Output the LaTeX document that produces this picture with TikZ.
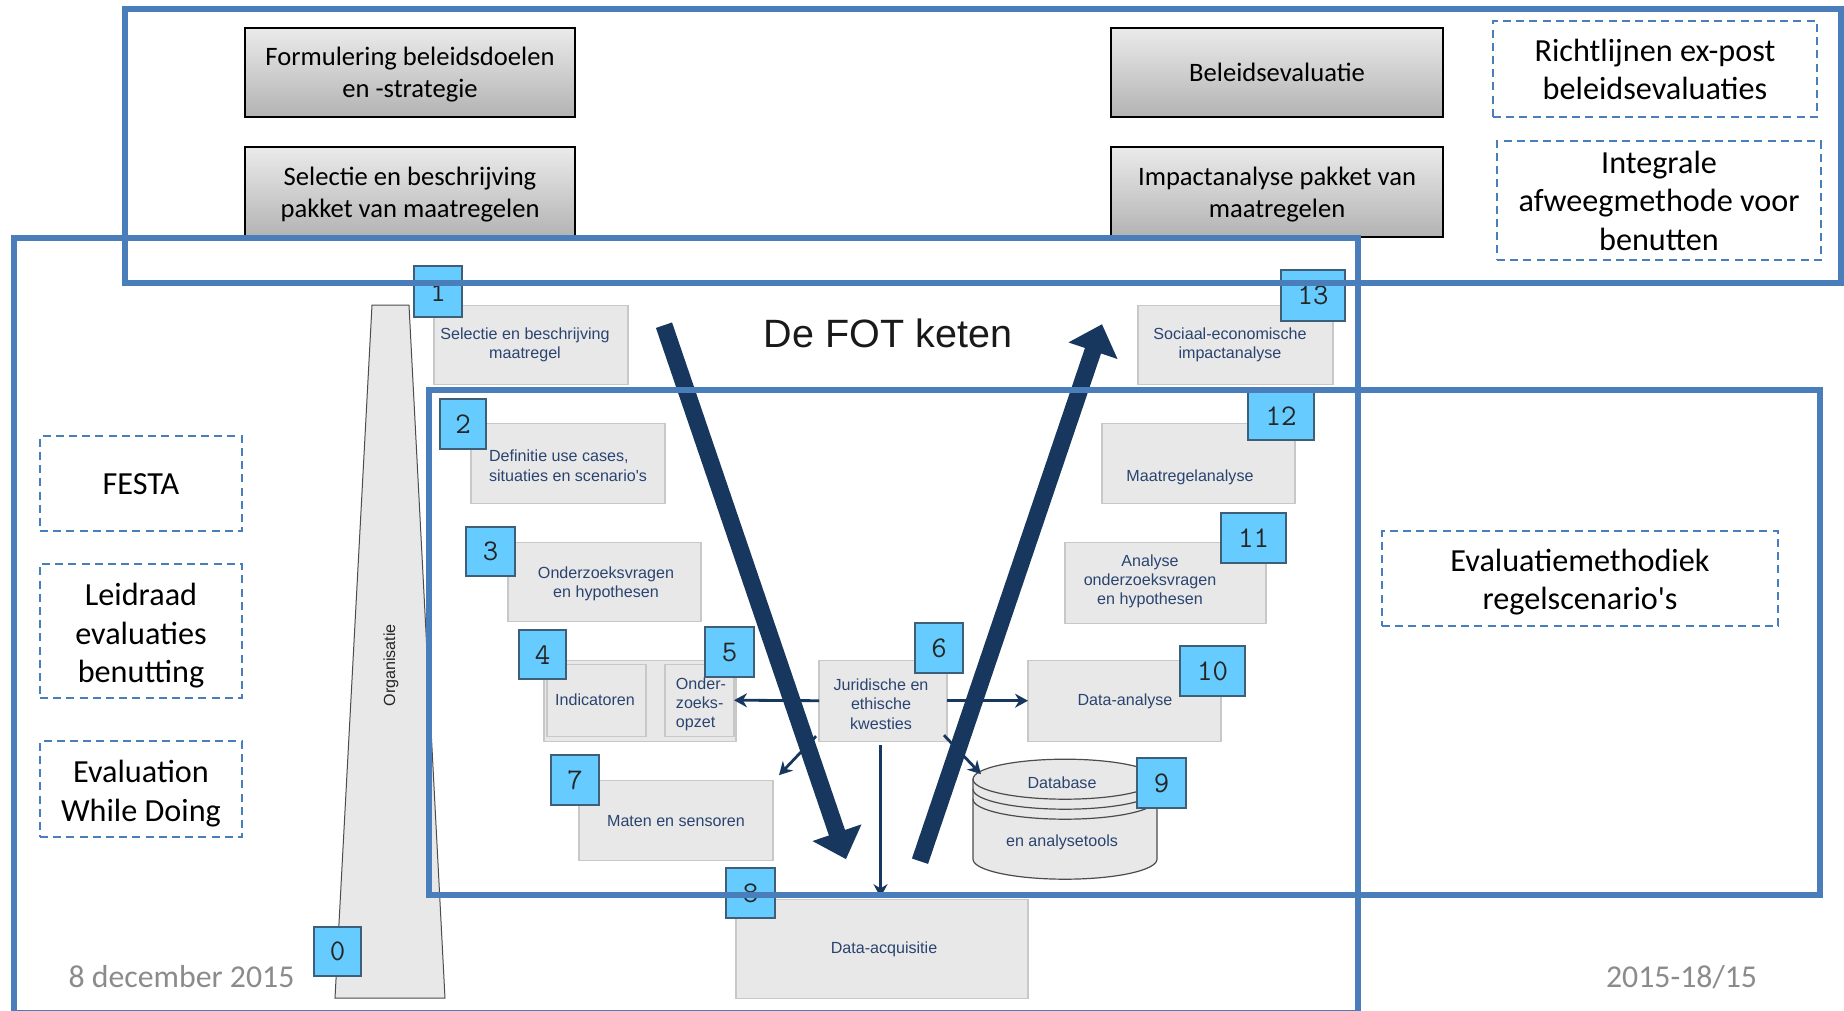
\documentclass[tikz,border=0pt]{standalone}
\usepackage{fontspec}
\usetikzlibrary{arrows.meta}
\newfontfamily\carl{Carlito}
\newfontfamily\lib{Liberation Sans}
\definecolor{frameblue}{HTML}{4A7EBB}
\definecolor{navy}{HTML}{17375E}
\definecolor{textnavy}{HTML}{2A4470}
\definecolor{boxgray}{HTML}{E8E8E8}
\definecolor{boxline}{HTML}{C8C8C8}
\definecolor{sq}{HTML}{66CCFF}
\definecolor{sqline}{HTML}{3F5F78}
\definecolor{footgray}{HTML}{8B8B8B}
\tikzset{
  x=.5pt,y=-.5pt,
  any/.style={inner sep=0pt,outer sep=0pt,align=center},
  grad/.style={any,draw=black,line width=1pt,top color=gray!16,bottom color=gray!60,font=\carl\fontsize{13.3}{16}\selectfont},
  dashbox/.style={any,draw=frameblue,line width=1.1pt,dash pattern=on 4pt off 2.6pt,font=\carl\fontsize{16.1}{19.2}\selectfont},
  lbox/.style={any,draw=boxline,line width=.7pt,fill=boxgray},
  ltxt/.style={any,text=textnavy,font=\lib\fontsize{8.05}{9.6}\selectfont},
  sqbox/.style={any,draw=sqline,line width=.8pt,fill=sq,text=black!85,font=\ttfamily\fontsize{15}{16}\selectfont},
  frame/.style={any,draw=frameblue,line width=2.8pt},
  thin arrow/.style={draw=navy,line width=1.4pt,-{Stealth[length=6.5pt,width=7pt]}},
  big arrow/.style={draw=navy,line width=8.5pt,-{Triangle[length=14pt,width=25pt]}},
  foot/.style={any,text=footgray,font=\carl\fontsize{15.9}{18}\selectfont},
}
\newcommand{\rbox}[7][]{%
  \pgfmathsetmacro\bw{(#5-#3)*0.5}\pgfmathsetmacro\bh{(#6-#4)*0.5}%
  \node[#1,minimum width=\bw pt,minimum height=\bh pt] (#2) at ({(#3+#5)/2},{(#4+#6)/2}) {#7};}
\newcommand{\lowg}{\rule{0pt}{11.2pt}}
\newcommand{\lowd}[1]{\rule{0pt}{\dimexpr 12.2pt+#1pt\relax}}
\begin{document}
\begin{tikzpicture}
\path[use as bounding box,fill=white] (0,0) rectangle (1844,1011);
\begin{scope}[yshift=-.6pt]
% policy boxes
\rbox[grad]{g1}{245}{27}{575}{116}{\lowg Formulering beleidsdoelen\\en -strategie}
\rbox[grad]{g2}{245}{146}{575}{237}{\lowg Selectie en beschrijving\\pakket van maatregelen}
\rbox[grad]{g3}{1111}{27}{1443}{116}{Beleidsevaluatie}
\rbox[grad]{g4}{1111}{146}{1443}{236}{\lowg Impactanalyse pakket van\\maatregelen}
% dashed boxes
\rbox[dashbox]{d1}{1493}{20}{1817}{116}{Richtlijnen ex-post\\beleidsevaluaties}
\rbox[dashbox]{d2}{1497}{140}{1821}{259}{Integrale\\afweegmethode voor\\benutten}
\rbox[dashbox]{d3}{40}{435}{242}{530}{FESTA}
\rbox[dashbox]{d4}{40}{563}{242}{697}{\lowd{3.5}Leidraad\\evaluaties\\benutting}
\rbox[dashbox]{d5}{40}{740}{242}{836}{\lowd{3.5}Evaluation\\While Doing}
\rbox[dashbox]{d6}{1382}{530}{1778}{625}{\lowd{2.4}Evaluatiemethodiek\\regelscenario's}
% organisation pillar
\draw[fill=boxgray,draw=black!70,line width=.5pt] (372,304) -- (409,304) -- (445,997) -- (335,997) -- cycle;
\node[ltxt,rotate=90,text=black!85] (org) at (391,664) {Organisatie};
% chain boxes
\rbox[lbox]{b1}{434}{304}{628}{383}{}
\rbox[lbox]{b2}{471}{422}{665}{502}{}
\rbox[lbox]{b3}{508}{541}{701}{620}{}
\rbox[lbox]{b45}{544}{659}{736}{740}{}
\rbox[lbox]{b4}{547}{663}{646}{735}{}
\rbox[lbox]{b5}{665}{663}{734}{735}{}
\rbox[lbox]{b6}{819}{659}{947}{740}{}
\rbox[lbox]{b7}{579}{779}{773}{859}{}
\rbox[lbox]{b8}{736}{898}{1028}{997}{}
\rbox[lbox]{b10}{1028}{659}{1221}{740}{}
\rbox[lbox]{b11}{1065}{541}{1266}{622}{}
\rbox[lbox]{b12}{1102}{422}{1295}{502}{}
\rbox[lbox]{b13}{1138}{304}{1333}{383}{}
% database
\path[fill=boxgray,draw=black!70,line width=.6pt] (973,858) arc[start angle=180,end angle=360,x radius=46pt,y radius=10pt] -- (1157,778) arc[start angle=0,end angle=180,x radius=46pt,y radius=10pt] -- cycle;
\draw[black!70,line width=.6pt] (973,778) arc[start angle=180,end angle=360,x radius=46pt,y radius=10pt];
\draw[black!70,line width=.6pt] (973,788) arc[start angle=180,end angle=360,x radius=46pt,y radius=10pt];
\draw[black!70,line width=.6pt] (973,798) arc[start angle=180,end angle=360,x radius=46pt,y radius=10pt];
% labels
\node[ltxt] (t1) at (525,343.5) {Selectie en beschrijving\\maatregel};
\node[ltxt,align=left] (t2) at (568,464.5) {Definitie use cases,\\situaties en scenario's};
\node[ltxt] (t3) at (606,582.5) {Onderzoeksvragen\\en hypothesen};
\node[ltxt] (t4) at (595,699) {Indicatoren};
\node[ltxt,align=left] (t5) at (701,703) {Onder-\\zoeks-\\opzet};
\node[ltxt] (t6) at (881,703) {Juridische en\\ethische\\kwesties};
\node[ltxt] (t7) at (676,820) {Maten en sensoren};
\node[ltxt] (t8) at (884,948) {Data-acquisitie};
\node[ltxt] (t9a) at (1062,782) {Database};
\node[ltxt] (t9b) at (1062,841) {en analysetools};
\node[ltxt] (t10) at (1125,700) {Data-analyse};
\node[ltxt] (t11) at (1150,580) {Analyse\\onderzoeksvragen\\en hypothesen};
\node[ltxt] (t12) at (1190,476) {Maatregelanalyse};
\node[ltxt] (t13) at (1230,343.5) {Sociaal-economische\\impactanalyse};
\node[any,font=\lib\fontsize{19.75}{22}\selectfont,text=black!90] (title) at (888,332) {De FOT keten};
% thin arrows
\coordinate (dl1) at (816,735);
\coordinate (dl2) at (779,774);
\coordinate (dr1) at (944,734);
\coordinate (dr2) at (981,773);
\coordinate (dtop) at (880.5,744);
\coordinate (dbot) at (880.5,896);
\draw[thin arrow] (b6.west) -- (b5.east);
\draw[thin arrow] (b6.east) -- (b10.west);
\draw[thin arrow] (dtop) -- (dbot);
\draw[thin arrow] (dl1) -- (dl2);
\draw[thin arrow] (dr1) -- (dr2);
% big arrows
\coordinate (a1) at (664,324);
\coordinate (a2) at (846,858);
\coordinate (a3) at (920,860);
\coordinate (a4) at (1102,323);
\draw[big arrow] (a1) -- (a2);
\draw[big arrow] (a3) -- (a4);
% number squares
\rbox[sqbox]{s0}{314}{926}{361}{975}{0}
\rbox[sqbox]{s1}{414}{265}{462}{316}{1}
\rbox[sqbox]{s2}{440}{398}{486}{448}{2}
\rbox[sqbox]{s3}{466}{526}{515}{575}{3}
\rbox[sqbox]{s4}{519}{629}{566}{678}{4}
\rbox[sqbox]{s5}{705}{626}{754}{676}{5}
\rbox[sqbox]{s6}{915}{622}{963}{672}{6}
\rbox[sqbox]{s7}{551}{754}{599}{804}{7}
\rbox[sqbox]{s8}{726}{867}{775}{917}{8}
\rbox[sqbox]{s9}{1137}{757}{1186}{807}{9}
\rbox[sqbox]{s10}{1180}{645}{1245}{695}{10}
\rbox[sqbox]{s11}{1221}{512}{1286}{562}{11}
\rbox[sqbox]{s12}{1248}{390}{1314}{439}{12}
\rbox[sqbox]{s13}{1281}{269}{1345}{320}{13}
% footer
\node[foot] (f1) at (181.5,975.5) {8 december 2015};
\node[foot] (f2) at (1681.5,975.5) {2015-18/15};
% frames
\rbox[frame]{fr1}{125}{8}{1841}{282}{}
\rbox[frame]{fr2}{14}{237}{1358}{1012}{}
\rbox[frame]{fr3}{429}{389}{1820}{894}{}
\end{scope}
\end{tikzpicture}
\end{document}
